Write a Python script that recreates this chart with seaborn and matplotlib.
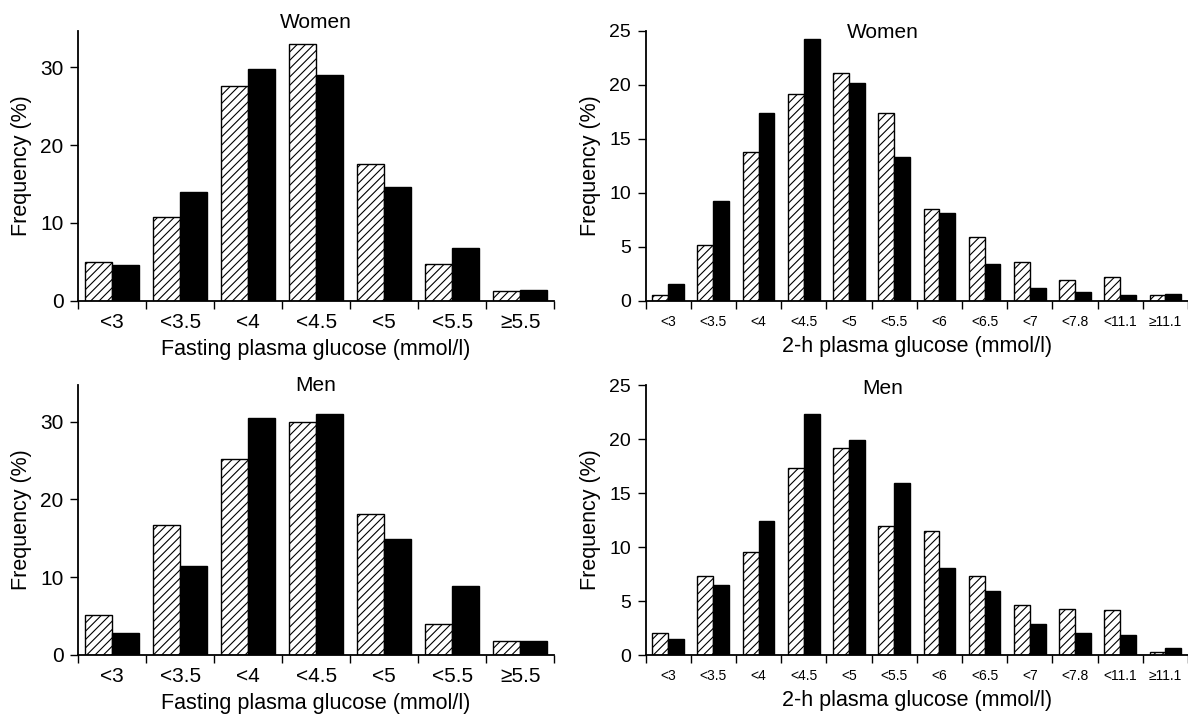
import numpy as np
import pandas as pd
import matplotlib.pyplot as plt
import seaborn as sns

# categories
fpg_cats = ['<3', '<3.5', '<4', '<4.5', '<5', '<5.5', '≥5.5']
ogtt_cats = ['<3', '<3.5', '<4', '<4.5', '<5', '<5.5', '<6', '<6.5', '<7', '<7.8', '<11.1', '≥11.1']
groups = ['hatched', 'solid']

# frequencies (%)
fpg_women_a = [5.0, 10.7, 27.6, 33.0, 17.6, 4.7, 1.2]
fpg_women_b = [4.6, 14.0, 29.8, 29.0, 14.6, 6.8, 1.4]
fpg_men_a = [5.1, 16.7, 25.2, 30.0, 18.1, 4.0, 1.8]
fpg_men_b = [2.8, 11.5, 30.5, 31.0, 14.9, 8.9, 1.8]
ogtt_women_a = [0.55, 5.15, 13.8, 19.1, 21.05, 17.4, 8.45, 5.9, 3.6, 1.9, 2.15, 0.55]
ogtt_women_b = [1.55, 9.2, 17.35, 24.2, 20.15, 13.3, 8.1, 3.4, 1.15, 0.85, 0.5, 0.6]
ogtt_men_a = [2.05, 7.3, 9.5, 17.3, 19.2, 11.9, 11.5, 7.35, 4.6, 4.3, 4.2, 0.3]
ogtt_men_b = [1.5, 6.5, 12.45, 22.3, 19.95, 15.95, 8.05, 5.9, 2.85, 2.05, 1.85, 0.65]

sns.set_style('ticks')
plt.rcParams['font.family'] = ['Liberation Sans', 'DejaVu Sans']
plt.rcParams['hatch.linewidth'] = 0.8
plt.rcParams['hatch.color'] = 'black'
plt.rcParams['text.color'] = 'black'
plt.rcParams['axes.labelcolor'] = 'black'
plt.rcParams['xtick.color'] = 'black'
plt.rcParams['ytick.color'] = 'black'

W, H = 1188, 715
fig = plt.figure(figsize=(W / 100, H / 100), dpi=100)


def panel(rect, cats, a, b, title, title_xy, xlabel, ymax, yticks, bar_w,
          xt_size, yt_size, xt_pad):
    ax = fig.add_axes(rect)
    n = len(cats)
    df = pd.DataFrame({'cat': cats * 2,
                       'grp': [groups[0]] * n + [groups[1]] * n,
                       'val': a + b})
    sns.barplot(data=df, x='cat', y='val', hue='grp', order=cats, hue_order=groups,
                palette=['white', 'black'], saturation=1, width=bar_w,
                edgecolor='black', linewidth=1, legend=False, errorbar=None, ax=ax)
    for bar in ax.containers[0]:
        bar.set_hatch('////')
    ax.set_xlim(-0.5, n - 0.5)
    ax.set_ylim(0, ymax)
    ax.set_yticks(yticks)
    ax.set_xticks(range(n))
    ax.set_xticklabels(cats, fontsize=xt_size)
    ax.set_xticks(np.arange(-0.5, n), minor=True)
    ax.tick_params(axis='x', which='major', length=0, pad=xt_pad)
    ax.tick_params(axis='x', which='minor', length=5.8, width=1)
    ax.tick_params(axis='y', length=5.8, width=1, pad=4.5, labelsize=yt_size)
    sns.despine(ax=ax)
    for s in ['left', 'bottom']:
        ax.spines[s].set_linewidth(1.3)
        ax.spines[s].set_color('black')
    ax.set_xlabel(xlabel, fontsize=15.5, labelpad=5)
    ax.set_ylabel('Frequency (%)', fontsize=15.5, labelpad=6)
    ax.text(title_xy[0], title_xy[1], title, ha='center', va='center', fontsize=15)
    return ax


left_w = 476.3 / W
right_x = 645.5 / W
right_w = (W - 645.5) / W
ah = 270 / H
top_y = 1 - 300.7 / H
bot_y = 1 - 655 / H

fpg_label = 'Fasting plasma glucose (mmol/l)'
ogtt_label = '2-h plasma glucose (mmol/l)'

panel([78 / W, top_y, left_w, ah], fpg_cats, fpg_women_a, fpg_women_b, 'Women', (3.0, 35.8),
      fpg_label, 34.7, [0, 10, 20, 30], 0.79, 15, 15, 9)
panel([right_x, top_y, right_w, ah], ogtt_cats, ogtt_women_a, ogtt_women_b, 'Women', (4.74, 24.8),
      ogtt_label, 25, [0, 5, 10, 15, 20, 25], 0.70, 10, 14, 10)
panel([78 / W, bot_y, left_w, ah], fpg_cats, fpg_men_a, fpg_men_b, 'Men', (3.0, 34.6),
      fpg_label, 34.7, [0, 10, 20, 30], 0.79, 15, 15, 9)
panel([right_x, bot_y, right_w, ah], ogtt_cats, ogtt_men_a, ogtt_men_b, 'Men', (4.74, 24.7),
      ogtt_label, 25, [0, 5, 10, 15, 20, 25], 0.70, 10, 14, 10)

fig.savefig('out.png', dpi=100)
